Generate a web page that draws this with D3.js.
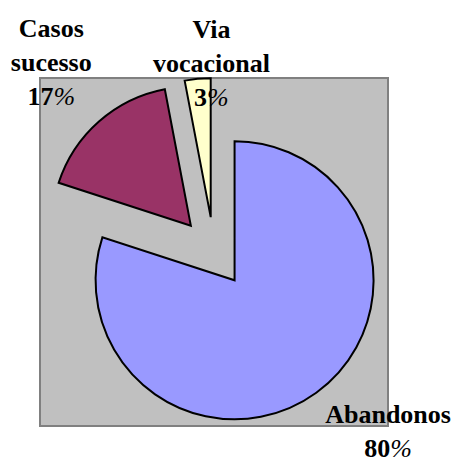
<!DOCTYPE html>
<html><head><meta charset="utf-8">
<script src="https://cdn.jsdelivr.net/npm/d3@7"></script>
<style>html,body{margin:0;padding:0;background:#fff;}svg{display:block;}</style>
</head><body>
<svg id="chart" width="453" height="462"></svg>
<script>
const categories = ["Abandonos", "Casos sucesso", "Via vocacional"];
const labelLines = [["Abandonos"], ["Casos", "sucesso"], ["Via", "vocacional"]];
const values = [80, 17, 3];
const percentLabels = ["80", "17", "3"];
const colors = ["#9999FF", "#993366", "#FFFFCC"];

// layout
const plot = {x: 40, y: 78, w: 348, h: 348};
const radius = 139, explode = 35;
const labelRadius = 240;
const labelNudge = [[33, -15], [-4, -10], [20, 50]];
const lineH = 34, fontSize = 26;

const svg = d3.select("#chart");
svg.append("rect").attr("x", plot.x).attr("y", plot.y).attr("width", plot.w).attr("height", plot.h)
  .attr("fill", "#C0C0C0").attr("stroke", "#808080").attr("stroke-width", 2);

const cx = plot.x + plot.w / 2, cy = plot.y + plot.h / 2;
const pie = d3.pie().sort(null).value(d => d)(values);
const arc = d3.arc().innerRadius(0).outerRadius(radius);
const g = svg.append("g").attr("transform", `translate(${cx},${cy})`);

g.selectAll("path").data(pie).join("path")
  .attr("d", arc)
  .attr("transform", d => {
    const m = (d.startAngle + d.endAngle) / 2;
    return `translate(${Math.sin(m) * explode},${-Math.cos(m) * explode})`;
  })
  .attr("fill", (d, i) => colors[i])
  .attr("stroke", "#000").attr("stroke-width", 2).attr("stroke-linejoin", "miter");

const lab = g.selectAll("g.lab").data(pie).join("g").attr("class", "lab")
  .attr("transform", (d, i) => {
    const m = (d.startAngle + d.endAngle) / 2;
    return `translate(${Math.sin(m) * labelRadius + labelNudge[i][0]},${-Math.cos(m) * labelRadius + labelNudge[i][1]})`;
  });

lab.each(function(d, i) {
  const lines = labelLines[i];
  const n = lines.length + 1;
  const t = d3.select(this).append("text")
    .attr("text-anchor", "middle")
    .attr("font-family", "'Liberation Serif', 'Times New Roman', serif")
    .attr("font-size", fontSize).attr("font-weight", "bold").attr("fill", "#000");
  const y0 = -(n - 1) * lineH / 2 + fontSize * 0.35;
  lines.forEach((l, k) => {
    t.append("tspan").attr("x", 0).attr("y", y0 + k * lineH).text(l);
  });
  const pt = t.append("tspan").attr("x", 0).attr("y", y0 + lines.length * lineH);
  pt.append("tspan").text(percentLabels[i]);
  pt.append("tspan").attr("font-weight", "normal").attr("font-style", "italic").text("%");
});
</script>
</body></html>
